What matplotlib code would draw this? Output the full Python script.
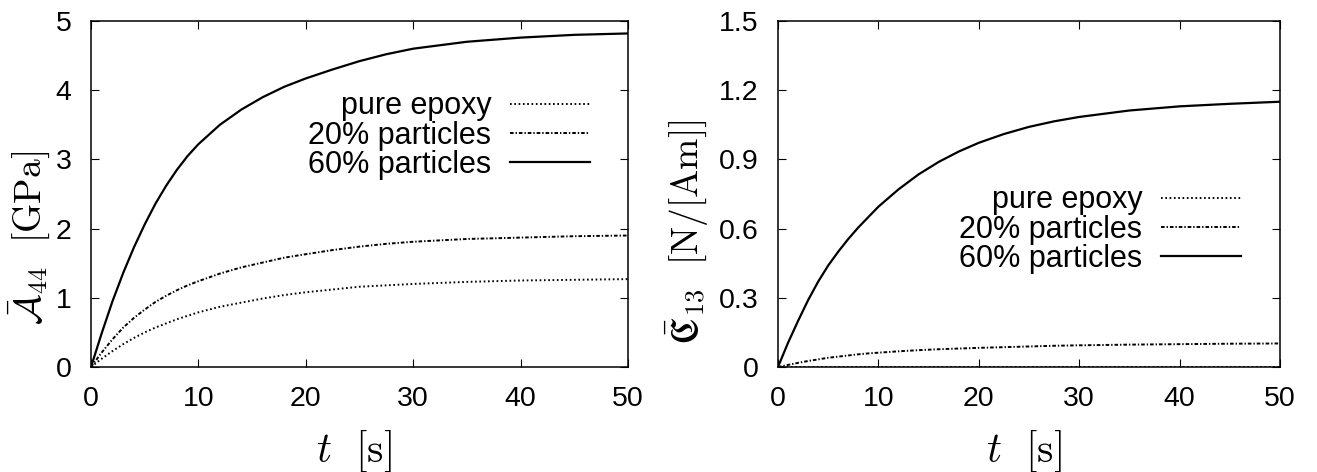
import matplotlib
matplotlib.use("Agg")
import matplotlib.pyplot as plt

plt.rcParams['font.family'] = ['Liberation Sans', 'DejaVu Sans']
plt.rcParams['mathtext.fontset'] = 'cm'
plt.rcParams['lines.scale_dashes'] = False

# ---- data ----
t = [0, 1, 2, 3, 4, 5, 6, 7, 8, 9, 10, 12, 14, 16, 18, 20, 22.5, 25, 27.5, 30, 35, 40, 45, 50]

A44_pure = [0, 0.12, 0.23, 0.33, 0.42, 0.50, 0.57, 0.63, 0.69, 0.74, 0.79, 0.87, 0.93, 0.99,
            1.04, 1.08, 1.12, 1.16, 1.18, 1.20, 1.23, 1.25, 1.26, 1.27]
A44_p20 = [0, 0.21, 0.40, 0.57, 0.71, 0.83, 0.94, 1.03, 1.11, 1.18, 1.24, 1.35, 1.44, 1.51,
           1.58, 1.63, 1.69, 1.74, 1.78, 1.81, 1.85, 1.87, 1.89, 1.90]
A44_p60 = [0, 0.49, 0.95, 1.36, 1.73, 2.06, 2.36, 2.62, 2.85, 3.05, 3.22, 3.50, 3.72, 3.90,
           4.05, 4.17, 4.30, 4.42, 4.52, 4.60, 4.70, 4.76, 4.80, 4.82]

C13_pure = [0, 0, 0, 0, 0, 0, 0, 0, 0, 0, 0, 0, 0, 0, 0, 0, 0, 0, 0, 0, 0, 0, 0, 0]
C13_p20 = [0, 0.009, 0.018, 0.026, 0.033, 0.040, 0.045, 0.050, 0.055, 0.059, 0.062, 0.068,
           0.073, 0.077, 0.080, 0.083, 0.086, 0.089, 0.092, 0.094, 0.097, 0.099, 0.101, 0.102]
C13_p60 = [0, 0.105, 0.20, 0.29, 0.37, 0.44, 0.50, 0.555, 0.605, 0.65, 0.695, 0.77, 0.835,
           0.889, 0.934, 0.972, 1.010, 1.041, 1.065, 1.084, 1.112, 1.130, 1.141, 1.150]

labels = ["pure epoxy", "20% particles", "60% particles"]
left_yticks = [0, 1, 2, 3, 4, 5]
right_yticks = [0, 0.3, 0.6, 0.9, 1.2, 1.5]
right_yticklabels = ["0", "0.3", "0.6", "0.9", "1.2", "1.5"]
xticks = [0, 10, 20, 30, 40, 50]

styles = [
    dict(color='black', lw=1.4, linestyle=(0, (1.2, 1.9))),
    dict(color='black', lw=1.4, linestyle=(0, (2.6, 1.4, 1.0, 1.4))),
    dict(color='black', lw=1.6, linestyle='-'),
]

W, H = 1317, 472
fig = plt.figure(figsize=(W / 100, H / 100), dpi=100)

def make_axes(l, r, b, tp):
    return fig.add_axes([l / W, 1 - b / H, (r - l) / W, (b - tp) / H])

ax1 = make_axes(91, 628, 367, 21)
ax2 = make_axes(778, 1280, 367, 21)

for ax, series, yt, ytl, ylim in [
    (ax1, [A44_pure, A44_p20, A44_p60], left_yticks, [str(v) for v in left_yticks], (0, 5)),
    (ax2, [C13_pure, C13_p20, C13_p60], right_yticks, right_yticklabels, (0, 1.5)),
]:
    for s, lab, st in zip(series, labels, styles):
        ax.plot(t, s, label=lab, **st)
    ax.set_xlim(0, 50)
    ax.set_ylim(*ylim)
    ax.set_xticks(xticks)
    ax.set_xticklabels([str(v) for v in xticks])
    ax.set_yticks(yt)
    ax.set_yticklabels(ytl)
    ax.tick_params(direction='in', length=6, width=0.8, top=True, right=True,
                   labelsize=20.5, pad=14)
    for sp in ax.spines.values():
        sp.set_linewidth(1.1)

ax1.set_xlabel(r'$t\ \ [\mathrm{s}]$', fontsize=30)
ax2.set_xlabel(r'$t\ \ [\mathrm{s}]$', fontsize=30)
for ax in (ax1, ax2):
    ax.xaxis.label.set_va('center')
    ax.xaxis.set_label_coords(0.49, -0.245)

ax1.set_ylabel(r'$\bar{\mathcal{A}}_{44}\ \ [\mathrm{GPa}]$', fontsize=27)
ax1.yaxis.label.set_va('center')
ax1.yaxis.set_label_coords(-0.114, 0.372)
ax2.set_ylabel(r'$\bar{\mathfrak{C}}_{13}\ \ [\mathrm{N/[Am]}]$', fontsize=27)
ax2.yaxis.label.set_va('center')
ax2.yaxis.set_label_coords(-0.183, 0.39)

leg_kw = dict(frameon=False, markerfirst=False, fontsize=22, handlelength=2.6,
              handletextpad=0.62, labelspacing=-0.02, borderpad=0, borderaxespad=0,
              loc='upper right')
ax1.legend(bbox_to_anchor=(0.929, 0.797), **leg_kw)
ax2.legend(bbox_to_anchor=(0.922, 0.525), **leg_kw)

fig.savefig('out.png', dpi=100)
